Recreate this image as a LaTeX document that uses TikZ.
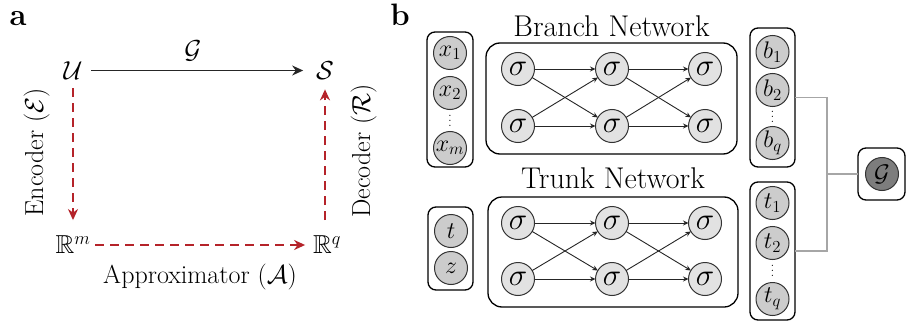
\documentclass[tikz,border=0pt]{standalone}
\usepackage{fix-cm}
\usepackage{amssymb}
\usetikzlibrary{arrows.meta}
\definecolor{encred}{HTML}{B5232A}
\definecolor{sigfill}{HTML}{E2E2E2}
\definecolor{infill}{HTML}{CCCCCC}
\definecolor{gfill}{HTML}{7D7D7D}
\definecolor{linkgray}{HTML}{A6A6A6}
% compact vertical ellipsis
\newcommand{\colellipsis}{\vbox{\baselineskip=5pt\lineskiplimit=0pt\hbox{.}\hbox{.}\hbox{.}}}
\begin{document}
\begin{tikzpicture}[x=1pt,y=-1pt,
  every node/.style={inner sep=0pt, outer sep=0pt},
  lbl/.style={font=\fontsize{26}{31}\selectfont},
  title/.style={font=\fontsize{30}{36}\selectfont, anchor=base},
  panel/.style={font=\fontsize{31}{37}\selectfont\bfseries, anchor=base},
  sym/.style={font=\fontsize{26}{31}\selectfont},
  neuron/.style={circle, draw=black!80, line width=1pt, fill=sigfill, minimum size=33pt, font=\fontsize{31}{36}\selectfont},
  unit/.style={circle, draw=black!80, line width=1pt, fill=infill, minimum size=33pt, font=\fontsize{24}{28}\selectfont},
  frame/.style={draw=black, line width=1.3pt, rounded corners=8pt},
  bigframe/.style={draw=black, line width=1.3pt, rounded corners=14pt},
  flow/.style={-{Stealth[length=11pt,width=10pt]}, line width=1.6pt, black!85},
  approx/.style={-{Stealth[length=11pt,width=10pt]}, line width=1.8pt, encred, dash pattern=on 9pt off 6pt},
  syn/.style={-{Stealth[length=5.5pt,width=5pt]}, line width=0.9pt, black!85},
  link/.style={draw=linkgray, line width=1.6pt},
  vdts/.style={font=\fontsize{15}{16}\selectfont}
]
\fill[white] (0,0) rectangle (907,321);
\useasboundingbox (0,0) rectangle (907,321);

% ---------- panel a: operator commutative diagram ----------
\node[panel] (pa) at (18,26) {a};
\node[sym] (U) at (73,70.5) {$\mathcal{U}$};
\node[sym] (S) at (325,70.5) {$\mathcal{S}$};
\node[sym] (Rm) at (73,245) {$\mathbb{R}^m$};
\node[sym] (Rq) at (327,245) {$\mathbb{R}^q$};
\node[sym] (Glab) at (193,51) {$\mathcal{G}$};

\draw[flow, shorten <=9pt, shorten >=13pt] (U) -- (S);
\draw[approx, shorten <=9pt, shorten >=16pt] (U) -- (Rm);
\draw[approx, shorten <=5pt, shorten >=8pt] (Rm) -- (Rq);
\draw[approx, shorten <=16pt, shorten >=10pt] (Rq.north -| S) -- (S.south);

\node[lbl, rotate=90, anchor=base] (enc) at (43,152.5) {Encoder ($\mathcal{E}$)};
\node[lbl, rotate=90, anchor=base] (dec) at (370,151) {Decoder ($\mathcal{R}$)};
\node[lbl, anchor=base] (apx) at (200,283) {Approximator ($\mathcal{A}$)};

% ---------- panel b: DeepONet ----------
\node[panel] (pb) at (400,26) {b};

\node[title] (btitle) at (611.5,37) {Branch Network};
\node[title] (ttitle) at (613,188) {Trunk Network};

% frames
\node[frame, minimum width=46pt, minimum height=135pt] (xbox) at (450,99.5) {};
\node[frame, minimum width=45pt, minimum height=83pt] (tzbox) at (450.5,248.5) {};
\node[bigframe, minimum width=251pt, minimum height=111pt] (brbox) at (611.5,98.5) {};
\node[bigframe, minimum width=250pt, minimum height=110pt] (trbox) at (613,252) {};
\node[frame, minimum width=45pt, minimum height=139pt] (bbox) at (772.5,97.5) {};
\node[frame, minimum width=45pt, minimum height=138pt] (tbox) at (772.5,251) {};
\node[frame, minimum width=47pt, minimum height=52pt] (gbox) at (881.5,174) {};

% inputs
\node[unit] (x1) at (450,53) {$x_1$};
\node[unit] (x2) at (450,93) {$x_2$};
\node[vdts] (xd) at (450,121) {\colellipsis};
\node[unit] (xm) at (450,148) {$x_m$};
\node[unit] (tin) at (451,231) {$t$};
\node[unit] (zin) at (451,268) {$z$};

% hidden layers
\foreach \net/\ya/\yb in {br/69/126, tr/223/279} {
  \foreach \c/\x in {1/518,2/612,3/705} {
    \node[neuron] (\net\c a) at (\x,\ya) {$\sigma$};
    \node[neuron] (\net\c b) at (\x,\yb) {$\sigma$};
  }
}
\foreach \net in {br,tr} {
  \foreach \c/\d in {1/2,2/3} {
    \foreach \r in {a,b} {
      \foreach \s in {a,b} {
        \draw[syn] (\net\c\r) -- (\net\d\s);
      }
    }
  }
}

% outputs
\node[unit] (b1) at (772.5,52) {$b_1$};
\node[unit] (b2) at (772.5,90) {$b_2$};
\node[vdts] (bd) at (772.5,117) {\colellipsis};
\node[unit] (bq) at (772.5,143) {$b_q$};
\node[unit] (t1) at (772.5,203) {$t_1$};
\node[unit] (t2) at (772.5,243) {$t_2$};
\node[vdts] (td) at (772.5,271) {\colellipsis};
\node[unit] (tq) at (772.5,299) {$t_q$};

% dot product to the operator output
\coordinate (j) at (827,174);
\draw[link] (bbox.east) -| (j) |- (tbox.east);
\draw[link] (j) -- (gbox.west);
\node[unit, fill=gfill] (gout) at (882,174) {$\mathcal{G}$};
\end{tikzpicture}
\end{document}
